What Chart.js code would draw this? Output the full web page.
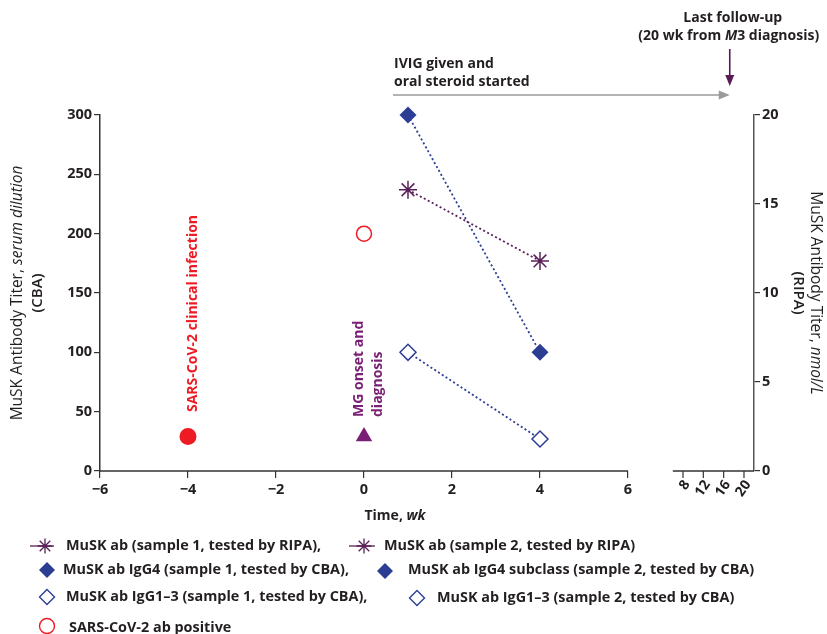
<!DOCTYPE html>
<html>
<head>
<meta charset="utf-8">
<script src="https://cdn.jsdelivr.net/npm/chart.js@4.4.0/dist/chart.umd.min.js"></script>
<style>
  html, body { margin: 0; padding: 0; background: #fff; }
  #wrap { width: 827px; height: 634px; }
</style>
</head>
<body>
<div id="wrap"><canvas id="chart" width="827" height="634"></canvas></div>
<script>
// Values (time in weeks from MG diagnosis)
const ripaWeeks = [1, 4];
const ripaTiter = [15.8, 11.8];        // nmol/L (right axis)
const igg4Weeks = [1, 4];
const igg4Titer = [300, 100];          // serum dilution (left axis)
const igg13Weeks = [1, 4];
const igg13Titer = [100, 27];
const sarsAbWeek = [0];
const sarsAbTiter = [200];
const infectionWeek = [-4];
const infectionLevel = [29];
const onsetWeek = [0];
const onsetLevel = [29];

const xTicks = [-6, -4, -2, 0, 2, 4, 6];
const xBreakTicks = [8, 12, 16, 20];
const leftTicks = [0, 50, 100, 150, 200, 250, 300];
const rightTicks = [0, 5, 10, 15, 20];

// Colours
const INK = '#231f20';
const AXIS = '#333333';
const RIPA_PURPLE = '#5a2159';
const BLUE = '#2c3e94';
const RED = '#ed1c24';
const MG_PURPLE = '#7a1f76';

const FONT = '"Open Sans", "Noto Sans", sans-serif';

const pts = (xs, ys) => xs.map((x, i) => ({ x: x, y: ys[i] }));
const minus = v => (v < 0 ? '\u2212' + Math.abs(v) : String(v));

function drawRuns(ctx, runs, x, y, align) {
  let total = 0;
  runs.forEach(r => { ctx.font = r[1]; total += ctx.measureText(r[0]).width; });
  let cx = align === 'center' ? x - total / 2 : x;
  ctx.textAlign = 'left';
  runs.forEach(r => {
    ctx.font = r[1];
    ctx.fillText(r[0], cx, y);
    cx += ctx.measureText(r[0]).width;
  });
}

function arrow(ctx, x1, y1, x2, y2, color, width, head, half) {
  const ang = Math.atan2(y2 - y1, x2 - x1);
  ctx.strokeStyle = color;
  ctx.fillStyle = color;
  ctx.lineWidth = width;
  ctx.beginPath();
  ctx.moveTo(x1, y1);
  ctx.lineTo(x2 - Math.cos(ang) * head * 0.8, y2 - Math.sin(ang) * head * 0.8);
  ctx.stroke();
  ctx.beginPath();
  ctx.moveTo(x2, y2);
  ctx.lineTo(x2 - Math.cos(ang) * head - Math.sin(ang) * half, y2 - Math.sin(ang) * head + Math.cos(ang) * half);
  ctx.lineTo(x2 - Math.cos(ang) * head + Math.sin(ang) * half, y2 - Math.sin(ang) * head - Math.cos(ang) * half);
  ctx.closePath();
  ctx.fill();
}

function star(ctx, x, y, r, color, lw) {
  ctx.strokeStyle = color;
  ctx.lineWidth = lw;
  ctx.beginPath();
  for (let k = 0; k < 4; k++) {
    const a = k * Math.PI / 4;
    ctx.moveTo(x - Math.cos(a) * r, y - Math.sin(a) * r);
    ctx.lineTo(x + Math.cos(a) * r, y + Math.sin(a) * r);
  }
  ctx.stroke();
}

function diamond(ctx, x, y, r, fill, stroke, lw) {
  ctx.beginPath();
  ctx.moveTo(x, y - r);
  ctx.lineTo(x + r, y);
  ctx.lineTo(x, y + r);
  ctx.lineTo(x - r, y);
  ctx.closePath();
  if (fill) { ctx.fillStyle = fill; ctx.fill(); }
  if (stroke) { ctx.strokeStyle = stroke; ctx.lineWidth = lw; ctx.stroke(); }
}

// Everything around the plot: broken axis, titles, notes, legend
const extras = {
  id: 'extras',
  afterDraw(chart) {
    const { ctx, chartArea: a, scales } = chart;
    const x = scales.x, x2 = scales.x2;
    const midY = (a.top + a.bottom) / 2;
    ctx.save();

    // x axis in two pieces
    ctx.strokeStyle = AXIS;
    ctx.lineWidth = 1.5;
    ctx.beginPath();
    ctx.moveTo(a.left, a.bottom);
    ctx.lineTo(x.getPixelForValue(6), a.bottom);
    ctx.moveTo(x2.getPixelForValue(6), a.bottom);
    ctx.lineTo(a.right, a.bottom);
    ctx.stroke();

    // ticks of the broken part (weeks after the gap)
    ctx.lineWidth = 1.2;
    ctx.fillStyle = INK;
    ctx.font = 'bold 14px ' + FONT;
    xBreakTicks.forEach(v => {
      const px = x2.getPixelForValue(v);
      ctx.beginPath();
      ctx.moveTo(px, a.bottom);
      ctx.lineTo(px, a.bottom + 7);
      ctx.stroke();
      ctx.save();
      ctx.translate(px + 4, a.bottom + 11);
      ctx.rotate(-55 * Math.PI / 180);
      ctx.textAlign = 'right';
      ctx.textBaseline = 'middle';
      ctx.fillText(String(v), 0, 0);
      ctx.restore();
    });

    // axis titles
    ctx.fillStyle = INK;
    ctx.textBaseline = 'middle';
    const reg = '15.5px ' + FONT, ital = 'italic 15.5px ' + FONT;
    const semi = '600 15px ' + FONT;
    ctx.save();
    ctx.translate(18, midY);
    ctx.rotate(-Math.PI / 2);
    drawRuns(ctx, [['MuSK Antibody Titer, ', reg], ['serum dilution', ital]], 0, 0, 'center');
    ctx.restore();
    ctx.save();
    ctx.translate(38, midY);
    ctx.rotate(-Math.PI / 2);
    drawRuns(ctx, [['(CBA)', semi]], 0, 0, 'center');
    ctx.restore();
    ctx.save();
    ctx.translate(815, midY);
    ctx.rotate(Math.PI / 2);
    drawRuns(ctx, [['MuSK Antibody Titer, ', reg], ['nmol/L', ital]], 0, 0, 'center');
    ctx.restore();
    ctx.save();
    ctx.translate(798, midY);
    ctx.rotate(Math.PI / 2);
    drawRuns(ctx, [['(RIPA)', semi]], 0, 0, 'center');
    ctx.restore();
    drawRuns(ctx, [['Time, ', 'bold 14px ' + FONT], ['wk', 'italic bold 14px ' + FONT]], 395, 516, 'center');

    // treatment arrow and notes
    const bold = 'bold 14px ' + FONT;
    const arrowY = 95;
    const arrowStart = x.getPixelForValue(0.66);
    const followUp = x2.getPixelForValue(17.2);
    arrow(ctx, arrowStart, arrowY, followUp, arrowY, '#9a9a9a', 1.6, 11, 4.5);
    ctx.fillStyle = INK;
    drawRuns(ctx, [['IVIG given and', bold]], arrowStart + 1, 64, 'left');
    drawRuns(ctx, [['oral steroid started', bold]], arrowStart + 1, 82, 'left');
    drawRuns(ctx, [['Last follow-up', bold]], followUp + 3, 18, 'center');
    drawRuns(ctx, [['(20 wk from ', bold], ['M', 'italic bold 14px ' + FONT], ['3 diagnosis)', bold]], followUp - 1, 36, 'center');
    arrow(ctx, followUp, 49, followUp, 86, '#5a1a55', 1.6, 11, 4.5);

    // event labels
    ctx.save();
    ctx.translate(x.getPixelForValue(-4) + 5, 412);
    ctx.rotate(-Math.PI / 2);
    ctx.fillStyle = RED;
    drawRuns(ctx, [['SARS-CoV-2 clinical infection', bold]], 0, 0, 'left');
    ctx.restore();
    ctx.save();
    ctx.translate(x.getPixelForValue(0) - 5, 417);
    ctx.rotate(-Math.PI / 2);
    ctx.fillStyle = MG_PURPLE;
    drawRuns(ctx, [['MG onset and', bold]], 0, 0, 'left');
    drawRuns(ctx, [['diagnosis', bold]], 0, 19, 'left');
    ctx.restore();

    // legend
    const lf = 'bold 14.4px ' + FONT;
    ctx.fillStyle = INK;
    ctx.textBaseline = 'middle';
    // row 1
    ctx.strokeStyle = RIPA_PURPLE; ctx.lineWidth = 1.3;
    ctx.beginPath(); ctx.moveTo(30, 546); ctx.lineTo(54, 546); ctx.stroke();
    star(ctx, 45, 546, 7.5, RIPA_PURPLE, 1.3);
    ctx.beginPath(); ctx.moveTo(349, 546); ctx.lineTo(375, 546); ctx.stroke();
    star(ctx, 364, 546, 7.5, RIPA_PURPLE, 1.3);
    ctx.fillStyle = INK;
    drawRuns(ctx, [['MuSK ab (sample 1, tested by RIPA),', lf]], 66, 546, 'left');
    drawRuns(ctx, [['MuSK ab (sample 2, tested by RIPA)', lf]], 384, 546, 'left');
    // row 2
    diamond(ctx, 47, 570, 8, BLUE);
    diamond(ctx, 385, 571, 8, BLUE);
    ctx.fillStyle = INK;
    drawRuns(ctx, [['MuSK ab IgG4 (sample 1, tested by CBA),', lf]], 63, 570, 'left');
    drawRuns(ctx, [['MuSK ab IgG4 subclass (sample 2, tested by CBA)', lf]], 408, 570, 'left');
    // row 3
    diamond(ctx, 47, 597, 7.5, '#fff', BLUE, 1.4);
    diamond(ctx, 417, 598, 7.5, '#fff', BLUE, 1.4);
    ctx.fillStyle = INK;
    drawRuns(ctx, [['MuSK ab IgG1\u20133 (sample 1, tested by CBA),', lf]], 66, 597, 'left');
    drawRuns(ctx, [['MuSK ab IgG1\u20133 (sample 2, tested by CBA)', lf]], 437, 598, 'left');
    // row 4
    ctx.strokeStyle = RED; ctx.lineWidth = 1.4;
    ctx.beginPath(); ctx.arc(47, 626, 7.5, 0, Math.PI * 2); ctx.stroke();
    ctx.fillStyle = INK;
    drawRuns(ctx, [['SARS-CoV-2 ab positive', lf]], 69, 628, 'left');

    ctx.restore();
  }
};

const tickFont = { family: FONT, size: 14.5, weight: 'bold' };

new Chart(document.getElementById('chart'), {
  type: 'scatter',
  data: {
    datasets: [
      {
        label: 'MuSK ab (tested by RIPA)',
        data: pts(ripaWeeks, ripaTiter),
        yAxisID: 'y2',
        showLine: true,
        clip: false,
        borderColor: RIPA_PURPLE,
        borderWidth: 1.8,
        borderDash: [2, 2.5],
        pointStyle: 'star',
        pointRadius: 9,
        pointBorderWidth: 1.5,
        pointBorderColor: RIPA_PURPLE,
        pointBackgroundColor: RIPA_PURPLE
      },
      {
        label: 'MuSK ab IgG4 (CBA)',
        data: pts(igg4Weeks, igg4Titer),
        yAxisID: 'y',
        showLine: true,
        clip: false,
        borderColor: BLUE,
        borderWidth: 1.8,
        borderDash: [2, 2.5],
        pointStyle: 'rectRot',
        pointRadius: 8.5,
        pointBorderWidth: 0,
        pointBackgroundColor: BLUE
      },
      {
        label: 'MuSK ab IgG1-3 (CBA)',
        data: pts(igg13Weeks, igg13Titer),
        yAxisID: 'y',
        showLine: true,
        clip: false,
        borderColor: BLUE,
        borderWidth: 1.8,
        borderDash: [2, 2.5],
        pointStyle: 'rectRot',
        pointRadius: 8,
        pointBorderWidth: 1.5,
        pointBorderColor: BLUE,
        pointBackgroundColor: '#ffffff'
      },
      {
        label: 'SARS-CoV-2 ab positive',
        data: pts(sarsAbWeek, sarsAbTiter),
        yAxisID: 'y',
        clip: false,
        pointStyle: 'circle',
        pointRadius: 7.5,
        pointBorderWidth: 1.5,
        pointBorderColor: RED,
        pointBackgroundColor: '#ffffff'
      },
      {
        label: 'SARS-CoV-2 clinical infection',
        data: pts(infectionWeek, infectionLevel),
        yAxisID: 'y',
        clip: false,
        pointStyle: 'circle',
        pointRadius: 8.5,
        pointBorderWidth: 0,
        pointBackgroundColor: RED
      },
      {
        label: 'MG onset and diagnosis',
        data: pts(onsetWeek, onsetLevel),
        yAxisID: 'y',
        clip: false,
        pointStyle: 'triangle',
        pointRadius: 9.5,
        pointBorderWidth: 0,
        pointBackgroundColor: MG_PURPLE
      }
    ]
  },
  options: {
    responsive: false,
    animation: false,
    events: [],
    layout: { padding: { top: 115, left: 0, right: 0, bottom: 0 } },
    plugins: {
      legend: { display: false },
      tooltip: { enabled: false }
    },
    scales: {
      x: {
        type: 'linear',
        min: -6,
        max: 8.864,
        afterBuildTicks: s => { s.ticks = xTicks.map(v => ({ value: v })); },
        afterFit: s => { s.height = 163; },
        grid: { drawOnChartArea: false, tickLength: 7, color: AXIS, lineWidth: 1.2 },
        border: { display: false },
        ticks: { color: INK, font: tickFont, padding: 3, maxRotation: 0, callback: v => minus(v) }
      },
      x2: {
        type: 'linear',
        display: false,
        min: -106.69,
        max: 21.97
      },
      y: {
        position: 'left',
        min: 0,
        max: 300,
        afterBuildTicks: s => { s.ticks = leftTicks.map(v => ({ value: v })); },
        afterFit: s => { s.width = 100; },
        grid: { drawOnChartArea: false, tickLength: 6, color: AXIS, lineWidth: 1.2 },
        border: { color: AXIS, width: 1.5 },
        ticks: { color: INK, font: tickFont, padding: 2 }
      },
      y2: {
        position: 'right',
        min: 0,
        max: 20,
        afterBuildTicks: s => { s.ticks = rightTicks.map(v => ({ value: v })); },
        afterFit: s => { s.width = 73; },
        grid: { drawOnChartArea: false, tickLength: 6, color: AXIS, lineWidth: 1.2 },
        border: { color: '#555555', width: 1.5 },
        ticks: { color: INK, font: tickFont, padding: 2 }
      }
    }
  },
  plugins: [extras]
});
</script>
</body>
</html>
